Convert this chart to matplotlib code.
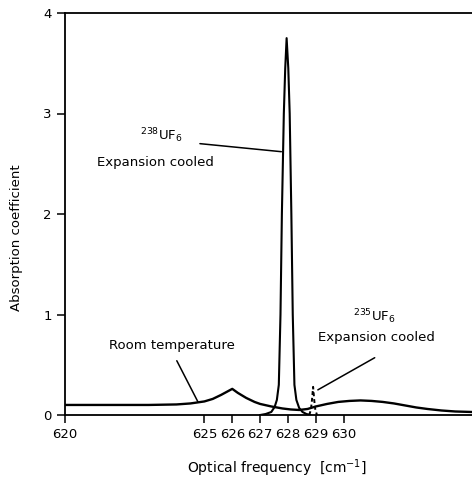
import matplotlib
matplotlib.use("Agg")
import matplotlib.pyplot as plt

# room temperature absorption (broad band)
room_x = [620.0, 621.0, 622.0, 623.0, 624.0, 624.5, 625.0, 625.3, 625.6, 626.0,
          626.2, 626.5, 626.8, 627.0, 627.4, 627.8, 628.1, 628.4, 628.7, 629.0,
          629.4, 629.8, 630.2, 630.6, 631.0, 631.4, 631.8, 632.2, 632.6, 633.0,
          633.5, 634.0, 634.6]
room_y = [0.10, 0.10, 0.10, 0.10, 0.105, 0.115, 0.135, 0.16, 0.20, 0.26,
          0.22, 0.17, 0.13, 0.11, 0.085, 0.065, 0.055, 0.05, 0.06, 0.085,
          0.11, 0.13, 0.14, 0.145, 0.14, 0.13, 0.115, 0.095, 0.075, 0.06,
          0.045, 0.035, 0.03]

# 238UF6 expansion cooled, narrow peak near 628
u238_x = [627.0, 627.2, 627.4, 627.52, 627.6, 627.67, 627.73, 627.78, 627.85,
          627.90, 627.95, 628.01, 628.06, 628.12, 628.17, 628.23, 628.3,
          628.4, 628.52, 628.66, 628.8]
u238_y = [0.0, 0.01, 0.03, 0.08, 0.15, 0.3, 1.0, 2.0, 3.0,
          3.45, 3.75, 3.45, 3.0, 2.0, 1.0, 0.3, 0.15,
          0.07, 0.03, 0.01, 0.0]

# 235UF6 expansion cooled, small dashed peak near 629
u235_x = [628.76, 628.82, 628.86, 628.90, 628.94, 628.98, 629.04]
u235_y = [0.0, 0.05, 0.15, 0.28, 0.15, 0.05, 0.0]

xticks = [620, 625, 626, 627, 628, 629, 630]
yticks = [0, 1, 2, 3, 4]

fig = plt.figure(figsize=(4.72, 4.80), dpi=100)
ax = fig.add_axes([65 / 472, 65 / 480, 1 - 65 / 472, 402 / 480])

ax.plot(room_x, room_y, color="black", lw=1.7)
ax.plot(u238_x, u238_y, color="black", lw=1.5)
ax.plot(u235_x, u235_y, color="black", lw=1.4, ls=(0, (2, 1.5)))

ax.set_xlim(620, 634.6)
ax.set_ylim(0, 4)
ax.set_xticks(xticks)
ax.set_yticks(yticks)
ax.tick_params(direction="out", length=6, width=1.1, labelsize=9.5, colors="black")
ax.spines["right"].set_visible(False)
for s in ("left", "bottom", "top"):
    ax.spines[s].set_linewidth(1.3)

ax.set_ylabel("Absorption coefficient", fontsize=9.5)
ax.yaxis.set_label_coords(-0.103, 0.44)
ax.set_xlabel("Optical frequency  [cm$^{-1}$]", fontsize=10)
ax.xaxis.set_label_coords(0.52, -0.105)

fs = 9.5
line = dict(arrowstyle="-", color="black", lw=1.1, shrinkA=0, shrinkB=0)

ax.text(623.44, 2.78, "$^{238}$UF$_6$", fontsize=fs, ha="center", va="center")
ax.text(623.26, 2.51, "Expansion cooled", fontsize=fs, ha="center", va="center")
ax.annotate("", xy=(627.76, 2.62), xytext=(624.84, 2.70), arrowprops=line)

ax.text(623.84, 0.69, "Room temperature", fontsize=fs, ha="center", va="center")
ax.annotate("", xy=(624.77, 0.13), xytext=(624.01, 0.54), arrowprops=line)

ax.text(631.11, 0.98, "$^{235}$UF$_6$", fontsize=fs, ha="center", va="center")
ax.text(631.18, 0.77, "Expansion cooled", fontsize=fs, ha="center", va="center")
ax.annotate("", xy=(629.07, 0.25), xytext=(631.11, 0.57), arrowprops=line)

fig.savefig("out.png", dpi=100)
